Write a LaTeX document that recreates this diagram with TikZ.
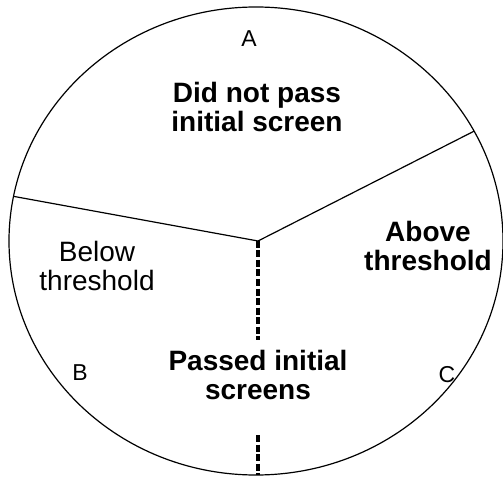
\documentclass[tikz,border=0pt]{standalone}
\usepackage{fontspec}
\setmainfont{Liberation Sans}
\usetikzlibrary{calc}

\begin{document}
\begin{tikzpicture}[
        x=1pt, y=1pt,
        every node/.style={inner sep=0pt},
        rim/.style={draw=black, line width=1.2pt},
        divider/.style={draw=black, line width=1.2pt},
        dashline/.style={draw=black, line width=3.4pt, dash pattern=on 7pt off 2.5pt},
        region/.style={align=center, font=\fontsize{28}{29}\selectfont\bfseries},
        plainregion/.style={align=center, font=\fontsize{28}{29}\selectfont},
        letter/.style={font=\fontsize{23}{24}\selectfont}
    ]
        \useasboundingbox (0,0) rectangle (503,477);
        \coordinate (centre) at (256,236);
        \coordinate (hub) at (258,236);
        \coordinate (leftend) at ($(centre)+(169:247 and 234)$);
        \coordinate (rightend) at ($(centre)+(28:247 and 234)$);
        \coordinate (dashtop) at (258,137);
        \coordinate (dashlow) at (258,42);
        \coordinate (bottom) at (258,2);

        \draw[rim] (centre) ellipse [x radius=247, y radius=234];

        \draw[divider] (leftend) -- (hub);
        \draw[divider] (hub) -- (rightend);
        \draw[dashline] (hub) -- (dashtop);
        \draw[dashline] (dashlow) -- (bottom);

        \node[letter] (labA) at (249,438) {A};
        \node[letter] (labB) at (80,104) {B};
        \node[letter] (labC) at (447,102) {C};

        \node[region] (failed) at (257,370) {Did not pass\\initial screen};
        \node[plainregion] (below) at (97,211) {Below\\threshold};
        \node[region] (above) at (428,231) {Above\\threshold};
        \node[region] (passed) at (258,102) {Passed initial\\screens};
    \end{tikzpicture}
\end{document}
